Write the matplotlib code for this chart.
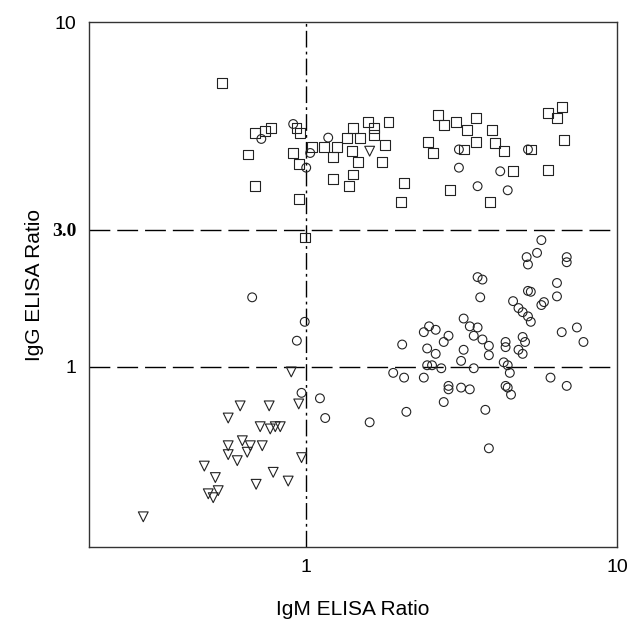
import matplotlib
matplotlib.use("Agg")
import matplotlib.pyplot as plt

# IgM / IgG ELISA ratios, one pair of lists per marker group
sq_igm = [0.537, 0.686, 0.738, 0.772, 0.651, 0.686, 0.956, 0.93, 0.908, 0.946,
          0.946, 0.989, 1.043, 1.143, 1.222, 1.258, 1.35, 1.40, 1.416, 1.582,
          1.65, 1.65, 1.84, 1.492, 1.795, 1.755, 1.466, 1.416, 1.222, 1.375,
          2.065, 2.02, 2.65, 2.77, 3.03, 3.51, 3.30, 3.96, 2.466, 2.56,
          3.51, 4.06, 4.32, 5.28, 3.21, 4.63, 5.98, 2.90, 3.91, 5.98,
          6.64, 6.41, 6.76]
sq_igg = [6.65, 4.76, 4.83, 4.94, 4.13, 3.34, 4.76, 4.94, 4.17, 3.87,
          3.07, 2.37, 4.33, 4.33, 4.07, 4.33, 4.62, 4.22, 4.94, 5.12,
          4.94, 4.70, 5.12, 4.62, 4.40, 3.92, 3.92, 3.61, 3.51, 3.34,
          3.41, 3.00, 5.37, 5.03, 5.12, 5.27, 4.87, 4.87, 4.49, 4.17,
          4.49, 4.45, 4.22, 4.27, 4.27, 3.69, 3.73, 3.25, 3.00, 5.45,
          5.67, 5.27, 4.55]

ci_igm = [0.908, 0.717, 1.03, 1.177, 1.0, 3.10, 3.10, 4.21, 3.56, 4.45, 5.17,
          0.670, 0.989, 0.933, 0.966, 1.107, 1.151, 1.60, 2.10, 2.036, 1.905,
          2.065, 2.39, 2.45, 2.39, 2.485, 2.61, 2.87, 2.77, 2.61, 2.45,
          2.54, 2.72, 2.87, 2.87, 3.15, 3.36, 2.77, 3.21, 3.36, 3.56,
          3.46, 3.21, 3.15, 3.46, 3.69, 3.87, 3.87, 3.77, 3.87, 4.38,
          4.38, 4.97, 5.06, 4.82, 4.97, 4.32, 4.45, 4.52, 4.38, 4.45,
          4.56, 6.11, 6.89, 6.64, 7.43, 7.80, 5.71, 5.53, 5.12, 5.17,
          6.89, 6.89, 3.56, 3.69, 6.41, 5.17, 5.28, 3.63, 6.41, 4.63,
          5.71, 5.82, 4.82, 4.97, 5.17, 5.28]
ci_igg = [5.06, 4.58, 4.17, 4.62, 3.78, 4.27, 3.78, 3.69, 3.34, 3.25, 4.27,
          1.59, 1.35, 1.19, 0.84, 0.81, 0.71, 0.69, 0.74, 1.16, 0.96,
          0.93, 0.93, 1.13, 1.26, 1.31, 1.28, 1.23, 1.18, 1.09, 1.01,
          1.01, 0.99, 0.88, 0.86, 0.87, 0.86, 0.79, 1.38, 1.31, 1.30,
          1.23, 1.12, 1.04, 0.99, 1.20, 1.15, 1.08, 0.75, 0.58, 1.18,
          1.14, 1.22, 1.18, 1.12, 1.09, 1.03, 1.01, 0.96, 0.88, 0.87,
          0.83, 0.93, 0.88, 1.26, 1.30, 1.18, 2.33, 2.14, 2.08, 1.98,
          2.08, 2.01, 1.82, 1.79, 1.75, 1.66, 1.65, 1.59, 1.60, 1.55,
          1.51, 1.54, 1.48, 1.44, 1.40, 1.35]

tr_igm = [0.299, 0.470, 0.510, 0.521, 0.484, 0.502, 0.561, 0.561, 0.561, 0.600,
          0.613, 0.623, 0.646, 0.661, 0.690, 0.711, 0.722, 0.760, 0.766, 0.795,
          0.825, 0.783, 0.875, 0.895, 0.946, 0.966, 1.60]
tr_igg = [0.367, 0.515, 0.477, 0.437, 0.428, 0.417, 0.71, 0.59, 0.556, 0.534,
          0.77, 0.61, 0.565, 0.59, 0.456, 0.67, 0.59, 0.77, 0.66, 0.67,
          0.67, 0.494, 0.466, 0.966, 0.78, 0.545, 4.22]

igm_cut = 1.0
igg_cuts = [1.0, 2.5]
ytick_vals = [1, 2.5, 10]
ytick_text = ["1", "3.0", "10"]
xtick_vals = [1, 10]
xtick_text = ["1", "10"]

plt.rcParams['font.family'] = ['Liberation Sans', 'DejaVu Sans']

fig = plt.figure(figsize=(6.37, 6.24), dpi=100)
ax = fig.add_axes([0.1397, 0.1234, 0.8289, 0.8413])

ax.scatter(sq_igm, sq_igg, marker='s', s=50, facecolors='none',
           edgecolors='#222222', linewidths=0.8, zorder=3)
ax.scatter(ci_igm, ci_igg, marker='o', s=40, facecolors='none',
           edgecolors='#222222', linewidths=0.8, zorder=3)
ax.scatter(tr_igm, tr_igg, marker='v', s=50, facecolors='none',
           edgecolors='#222222', linewidths=0.8, zorder=3)

for c in igg_cuts:
    ax.axhline(c, color='black', lw=1.0, dashes=(15, 5), zorder=2)
ax.axvline(igm_cut, color='black', lw=1.0, dashes=(12, 3, 2, 3), zorder=2)

ax.set_xscale('log')
ax.set_yscale('log')
ax.set_xlim(0.2, 10)
ax.set_ylim(0.3, 10)

ax.set_xticks(xtick_vals)
ax.set_xticklabels(xtick_text)
ax.set_yticks(ytick_vals)
ax.set_yticklabels(ytick_text)
ax.minorticks_off()
ax.tick_params(length=0, labelsize=14, pad=9)
for lab in ax.get_yticklabels():
    if lab.get_text() == "3.0":
        lab.set_family('Liberation Serif')
        lab.set_fontweight('bold')

for sp in ax.spines.values():
    sp.set_color('#333333')
    sp.set_linewidth(1.0)

ax.set_xlabel('IgM ELISA Ratio', fontsize=15, labelpad=17)
ax.set_ylabel('IgG ELISA Ratio', fontsize=15, labelpad=6)

fig.savefig('out.png', dpi=100)
